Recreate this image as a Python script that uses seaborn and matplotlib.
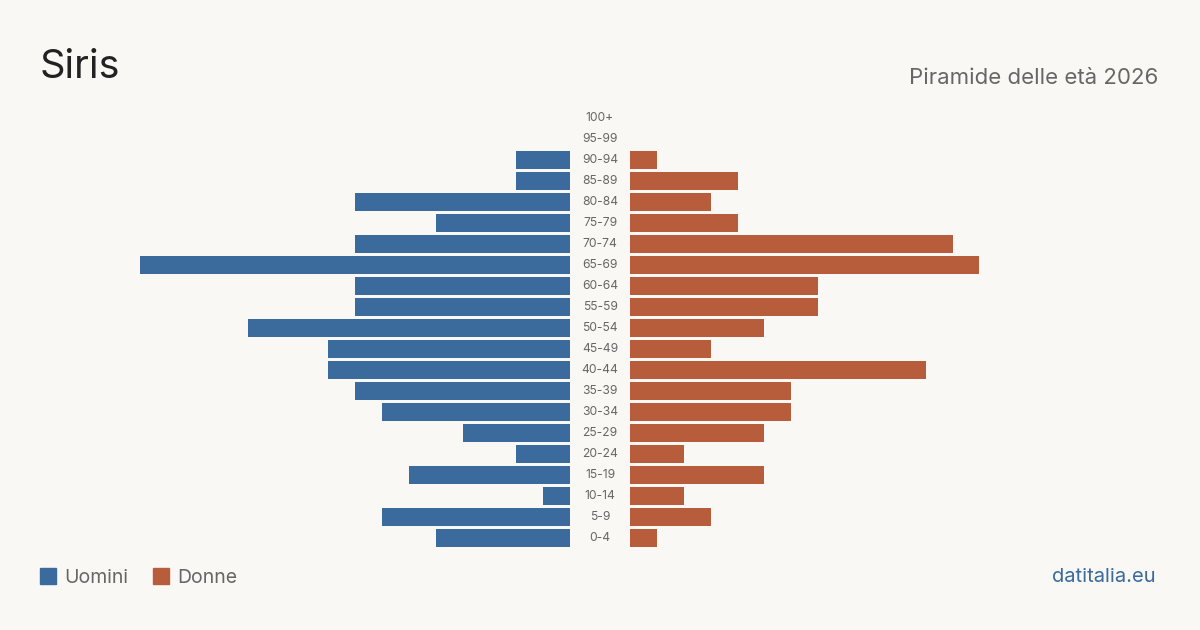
import pandas as pd
import matplotlib.pyplot as plt
import seaborn as sns

sns.set_theme(style='white')
plt.rcParams['font.family'] = ['Inter', 'DejaVu Sans']

# classi di età, dall'alto verso il basso
classi = ['100+', '95-99', '90-94', '85-89', '80-84', '75-79', '70-74', '65-69',
          '60-64', '55-59', '50-54', '45-49', '40-44', '35-39', '30-34', '25-29',
          '20-24', '15-19', '10-14', '5-9', '0-4']
uomini = [0, 0, 2, 2, 8, 5, 8, 16, 8, 8, 12, 9, 9, 8, 7, 4, 2, 6, 1, 7, 5]
donne = [0, 0, 1, 4, 3, 4, 12, 13, 7, 7, 5, 3, 11, 6, 6, 5, 2, 5, 2, 3, 1]

bg = '#f9f8f4'
blu = '#3b6b9c'
rosso = '#b85d3c'
grigio = '#666666'

df = pd.DataFrame({'classe': classi, 'uomini': uomini, 'donne': donne})

W, H = 1200, 630
fig = plt.figure(figsize=(12, 6.3), dpi=100, facecolor=bg)

top, bottom = 107.5, 548.5
y0 = (H - bottom) / H
h = (bottom - top) / H
xmax = 16

ax_l = fig.add_axes([140 / W, y0, 430 / W, h])
ax_m = fig.add_axes([570 / W, y0, 60 / W, h])
ax_r = fig.add_axes([630 / W, y0, 430 / W, h])

sns.barplot(data=df, x='uomini', y='classe', order=classi, color=blu,
            width=0.81, saturation=1, linewidth=0, ax=ax_l)
sns.barplot(data=df, x='donne', y='classe', order=classi, color=rosso,
            width=0.81, saturation=1, linewidth=0, ax=ax_r)

ax_l.set_xlim(xmax, 0)
ax_r.set_xlim(0, xmax)
for ax in (ax_l, ax_m, ax_r):
    ax.set_ylim(len(classi) - 0.5, -0.5)
    ax.set_facecolor('none')
    ax.set_xlabel('')
    ax.set_ylabel('')
    ax.set_xticks([])
    ax.set_yticks([])
    for s in ax.spines.values():
        s.set_visible(False)

for i, c in enumerate(classi):
    ax_m.text(0.5, i, c, ha='center', va='center', fontsize=8.7, color=grigio,
              transform=ax_m.get_yaxis_transform())

# titoli
fig.text(40 / W, 1 - 67 / H, 'Siris', fontsize=28.5, color='#222222', va='center', ha='left')
fig.text(1158 / W, 1 - 78 / H, 'Piramide delle età 2026', fontsize=16, color=grigio,
         va='center', ha='right')

# legenda
for x, col, lab in [(40, blu, 'Uomini'), (153, rosso, 'Donne')]:
    fig.patches.append(plt.Rectangle((x / W, 1 - 584 / H), 16 / W, 16 / H, color=col,
                                     transform=fig.transFigure, figure=fig))
    fig.text((x + 24) / W, 1 - 578 / H, lab, fontsize=14, color=grigio, va='center', ha='left')

fig.text(1156 / W, 1 - 577 / H, 'datitalia.eu', fontsize=14.5, color=blu, va='center', ha='right')

fig.savefig('out.png', dpi=100, facecolor=bg)
